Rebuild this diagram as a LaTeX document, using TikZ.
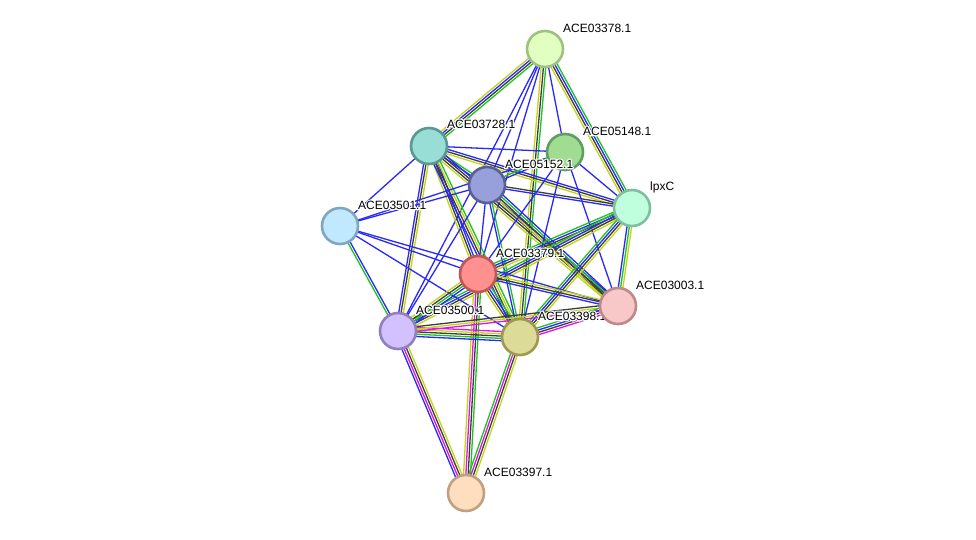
\documentclass[tikz,border=0pt]{standalone}
\usepackage{fontspec}
\setmainfont{Liberation Sans}
\usepackage{tikz}
\usetikzlibrary{calc}

\definecolor{lgreen}{RGB}{30,195,30}
\definecolor{lblue}{RGB}{40,40,250}
\definecolor{lblack}{RGB}{60,60,60}
\definecolor{lyellow}{RGB}{195,212,25}
\definecolor{lmagenta}{RGB}{225,20,225}

\pgfdeclarelayer{bg}
\pgfsetlayers{bg,main}

% one line per evidence channel, side by side
\newcommand\assoc[3]{%
  \foreach \c [count=\n] in {#3} {\xdef\nassoc{\n}}%
  \foreach \c [count=\i] in {#3} {%
    \pgfmathsetmacro\off{(\i-(\nassoc+1)/2)*2.3}%
    \draw[\c,link] ($(#1.center)!\off pt!90:(#2.center)$) -- ($(#2.center)!\off pt!-90:(#1.center)$);
  }}
% white outline behind a label
\newcommand\halo[1]{\makebox[0pt][l]{\special{pdf:literal direct 2 Tr 2.6 w 1 1 1 RG 1 j}\textcolor{white}{#1}\special{pdf:literal direct 0 Tr}}#1}

\begin{document}
\begin{tikzpicture}[
x=1pt,y=-1pt,
prot/.style={circle,line width=2.6pt,minimum size=36pt,inner sep=0pt},
lbl/.style={anchor=west,inner sep=0pt,font=\fontsize{12}{14}\selectfont},
link/.style={line width=1.3pt}
]
\useasboundingbox (0,0) rectangle (976,539);

\node[prot,fill={rgb,255:red,224;green,255;blue,192},draw={rgb,255:red,160;green,192;blue,128}] (a78) at (545,49) {};
\node[lbl] (a78l) at ($(a78)+(18,-21)$) {\halo{ACE03378.1}};
\node[prot,fill={rgb,255:red,152;green,222;blue,214},draw={rgb,255:red,90;green,152;blue,148}] (a28) at (429,146) {};
\node[lbl] (a28l) at ($(a28)+(18,-22)$) {\halo{ACE03728.1}};
\node[prot,fill={rgb,255:red,160;green,220;blue,146},draw={rgb,255:red,96;green,158;blue,96}] (a48) at (565,152) {};
\node[lbl] (a48l) at ($(a48)+(18,-21)$) {\halo{ACE05148.1}};
\node[prot,fill={rgb,255:red,152;green,160;blue,220},draw={rgb,255:red,90;green,96;blue,150}] (a52) at (487,185) {};
\node[lbl] (a52l) at ($(a52)+(18,-21)$) {\halo{ACE05152.1}};
\node[prot,fill={rgb,255:red,192;green,255;blue,222},draw={rgb,255:red,128;green,190;blue,160}] (lpx) at (632,208) {};
\node[lbl] (lpxl) at ($(lpx)+(18,-21)$) {\halo{lpxC}};
\node[prot,fill={rgb,255:red,192;green,232;blue,255},draw={rgb,255:red,128;green,166;blue,192}] (a01) at (340,226) {};
\node[lbl] (a01l) at ($(a01)+(18,-21)$) {\halo{ACE03501.1}};
\node[prot,fill={rgb,255:red,255;green,144;blue,144},draw={rgb,255:red,192;green,86;blue,86}] (a79) at (478,274) {};
\node[lbl] (a79l) at ($(a79)+(18,-21)$) {\halo{ACE03379.1}};
\node[prot,fill={rgb,255:red,210;green,192;blue,255},draw={rgb,255:red,144;green,128;blue,192}] (a00) at (398,331) {};
\node[lbl] (a00l) at ($(a00)+(18,-21)$) {\halo{ACE03500.1}};
\node[prot,fill={rgb,255:red,220;green,220;blue,152},draw={rgb,255:red,160;green,152;blue,82}] (a98) at (520,337) {};
\node[lbl] (a98l) at ($(a98)+(18,-21)$) {\halo{ACE03398.1}};
\node[prot,fill={rgb,255:red,248;green,200;blue,200},draw={rgb,255:red,192;green,136;blue,136}] (a03) at (618,306) {};
\node[lbl] (a03l) at ($(a03)+(18,-21)$) {\halo{ACE03003.1}};
\node[prot,fill={rgb,255:red,255;green,222;blue,192},draw={rgb,255:red,192;green,160;blue,128}] (a97) at (466,493) {};
\node[lbl] (a97l) at ($(a97)+(18,-21)$) {\halo{ACE03397.1}};

\begin{pgfonlayer}{bg}
\fill[white] (0,0) rectangle (976,539);
\assoc{a78}{a28}{lyellow,lblue,lblack,lgreen}
\assoc{a78}{lpx}{lyellow,lblack,lblue,lgreen}
\assoc{a78}{a52}{lblue}
\assoc{a78}{a48}{lblue}
\assoc{a78}{a79}{lblue}
\assoc{a78}{a00}{lblue}
\assoc{a78}{a98}{lyellow,lblack,lgreen}
\assoc{a28}{a48}{lblue}
\assoc{a28}{lpx}{lyellow,lblack,lblue}
\assoc{a28}{a52}{lblue,lgreen}
\assoc{a28}{a01}{lblue}
\assoc{a28}{a00}{lblue,lblack,lyellow}
\assoc{a28}{a79}{lyellow,lblack,lblue}
\assoc{a28}{a98}{lblue,lblack,lyellow,lgreen}
\assoc{a28}{a03}{lyellow,lblack,lblack,lblue}
\assoc{a52}{a01}{lblue}
\assoc{a48}{a01}{lblue}
\assoc{a52}{lpx}{lblue,lblack}
\assoc{a52}{a48}{lblue,lgreen}
\assoc{a52}{a79}{lblue}
\assoc{a52}{a00}{lblue}
\assoc{a52}{a98}{lblue,lgreen}
\assoc{a52}{a03}{lyellow,lblack,lgreen,lblue}
\assoc{a48}{a79}{lblue}
\assoc{a48}{a98}{lblue}
\assoc{a48}{a03}{lblue}
\assoc{a48}{lpx}{lblue}
\assoc{lpx}{a79}{lgreen,lblue,lblack,lyellow}
\assoc{lpx}{a00}{lgreen,lblue,lblack,lyellow}
\assoc{lpx}{a98}{lgreen,lblue,lblack,lyellow}
\assoc{lpx}{a03}{lblue,lgreen,lyellow}
\assoc{a01}{a79}{lblue}
\assoc{a01}{a98}{lblue}
\assoc{a01}{a03}{lblue}
\assoc{a01}{a00}{lgreen,lblue}
\assoc{a79}{a00}{lyellow,lblack,lgreen,lblue}
\assoc{a79}{a98}{lyellow,lblack,lblue,lgreen}
\assoc{a79}{a03}{lblue,lblack,lyellow}
\assoc{a79}{a97}{lyellow,lmagenta,lblack,lgreen}
\assoc{a00}{a98}{lblue,lgreen,lblack,lyellow,lmagenta}
\assoc{a00}{a03}{lmagenta,lyellow,lblack}
\assoc{a00}{a97}{lblue,lmagenta,lblack,lyellow}
\assoc{a98}{a03}{lmagenta,lblack,lblue,lgreen}
\assoc{a98}{a97}{lgreen,lmagenta,lblack,lyellow}
\end{pgfonlayer}
\end{tikzpicture}
\end{document}
